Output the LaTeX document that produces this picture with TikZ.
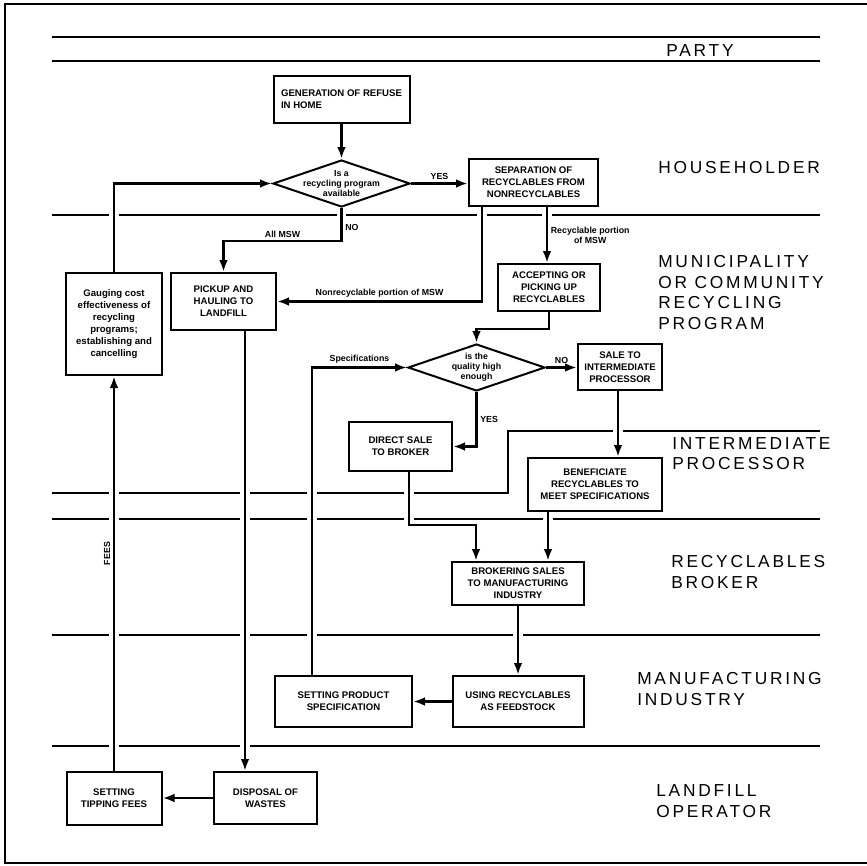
\documentclass[tikz,border=0pt]{standalone}
\usepackage{fontspec}
\setmainfont{Liberation Sans}
\newfontfamily\lanefont[LetterSpace=16]{Liberation Sans}
\usetikzlibrary{shapes.geometric,arrows.meta,positioning}
\pgfdeclarelayer{fore}
\pgfsetlayers{main,fore}

\newcommand\boxfont{\bfseries\fontsize{7.2}{9}\selectfont}
\newcommand\notefont{\bfseries\fontsize{6.6}{7.6}\selectfont}
\newcommand\lanesize{\lanefont\fontsize{13}{15.4}\selectfont}

\tikzset{
  proc/.style={draw,line width=1.5pt,align=center,font=\boxfont,inner sep=2pt,fill=white},
  query/.style={diamond,draw,line width=1.5pt,inner sep=0pt,minimum width=102.75pt,minimum height=35.25pt,fill=white},
  querytext/.style={align=center,font=\notefont,inner sep=0pt},
  flow/.style={line width=1.8pt,-{Latex[length=9pt,width=6.5pt]},
    preaction={draw=white,line width=7pt}},
  note/.style={font=\notefont,inner sep=2pt},
  laneline/.style={line width=0.9pt},
  lane/.style={font=\lanesize,align=left,inner sep=0pt,anchor=west}
}

\begin{document}
\begin{tikzpicture}[x=0.75pt,y=-0.75pt]
  \useasboundingbox (0,0) rectangle (867,865);
  % frame and lanes
  \draw[line width=1pt] (867,4) -- (5,4) -- (5,863) -- (867,863);
  \foreach \y in {37,61,215,519,635,746}
    \draw[laneline] (52,\y) -- (820,\y);
  \draw[laneline] (52,493) -- (508,493) -- (508,431) -- (820,431);

  \node[lane,anchor=center] (party) at (700,51) {PARTY};
  \node[lane] (household) at (658,168) {HOUSEHOLDER};
  \node[lane] (municip) at (658,292.5) {MUNICIPALITY\\OR COMMUNITY\\RECYCLING\\PROGRAM};
  \node[lane] (interproc) at (672,453.5) {INTERMEDIATE\\PROCESSOR};
  \node[lane] (broklane) at (671,572) {RECYCLABLES\\BROKER};
  \node[lane] (manuf) at (637,689) {MANUFACTURING\\INDUSTRY};
  \node[lane] (landfill) at (656,801) {LANDFILL\\OPERATOR};

  % boxes
  \begin{pgfonlayer}{fore}
  \node[proc,align=left,minimum width=102pt,minimum height=35.25pt] (gen) at (341.5,99.5) {GENERATION OF REFUSE\\IN HOME};
  \node[query] (q1) at (341.5,183.5) {};
  \node[querytext] (q1t) at (q1) {Is a\\recycling program\\available};
  \node[proc,minimum width=96.75pt,minimum height=35.25pt] (sep) at (533.5,182.5) {SEPARATION OF\\RECYCLABLES FROM\\NONRECYCLABLES};
  \node[proc,minimum width=78.75pt,minimum height=42.75pt] (pickup) at (223.5,301.5) {PICKUP AND\\HAULING TO\\LANDFILL};
  \node[proc,minimum width=72pt,minimum height=76.5pt] (gauge) at (114,324) {Gauging cost\\effectiveness of\\recycling\\programs;\\establishing and\\cancelling};
  \node[proc,minimum width=76.5pt,minimum height=35.25pt] (accept) at (549,287.5) {ACCEPTING OR\\PICKING UP\\RECYCLABLES};
  \node[query] (q2) at (476.5,367.5) {};
  \node[querytext] (q2t) at (q2) {is the\\quality high\\enough};
  \node[proc,minimum width=63pt,minimum height=34.5pt] (saleip) at (620,367) {SALE TO\\INTERMEDIATE\\PROCESSOR};
  \node[proc,minimum width=77.25pt,minimum height=36.75pt] (direct) at (400.5,446.5) {DIRECT SALE\\TO BROKER};
  \node[proc,minimum width=100.5pt,minimum height=39.75pt] (benef) at (595,484.5) {BENEFICIATE\\RECYCLABLES TO\\MEET SPECIFICATIONS};
  \node[proc,minimum width=99pt,minimum height=32.25pt] (broker) at (518,583.5) {BROKERING SALES\\TO MANUFACTURING\\INDUSTRY};
  \node[proc,minimum width=98.25pt,minimum height=38.25pt] (using) at (518,701.5) {USING RECYCLABLES\\AS FEEDSTOCK};
  \node[proc,minimum width=102.75pt,minimum height=38.25pt] (setspec) at (343.5,701.5) {SETTING PRODUCT\\SPECIFICATION};
  \node[proc,minimum width=77.25pt,minimum height=39pt] (disposal) at (265.5,798) {DISPOSAL OF\\WASTES};
  \node[proc,minimum width=71.25pt,minimum height=39.75pt] (tipping) at (114,798) {SETTING\\TIPPING FEES};
  \end{pgfonlayer}

  % flows
  \draw[flow] (gen) -- (q1);
  \draw[flow] (q1.east) -- (q1.east -| sep.west) node[note,midway,above] (yes1) {YES};
  \draw[flow] (q1.south) -- ++(0,33) node[note,pos=0.6,right] (no1) {NO}
    -| (pickup.north) node[note,pos=0.25,above] (allmsw) {All MSW};
  \draw[flow] (gauge.north) |- (q1.west);
  \draw[flow] (sep.south -| 482,0) |- (pickup.east) node[note,pos=0.75,above] (nonrec) {Nonrecyclable portion of MSW};
  \draw[flow] (sep.south -| 547,0) -- (accept.north -| 547,0)
    node[note,midway,right,align=center] (recport) {Recyclable portion\\of MSW};
  \draw[flow] (accept.south) -- ++(0,17) -| (q2.north);
  \draw[flow] (q2.east) -- (q2.east -| saleip.west) node[note,midway,above] (no2) {NO};
  \draw[flow] (q2.south) |- (direct.east) node[note,pos=0.25,right] (yes2) {YES};
  \draw[flow] (saleip.south -| 618,0) -- (benef.north -| 618,0);
  \draw[flow] (direct.south -| 409,0) |- (476,525) -- (broker.north -| 476,0);
  \draw[flow] (benef.south -| 548,0) -- (broker.north -| 548,0);
  \draw[flow] (broker) -- (using);
  \draw[flow] (using) -- (setspec);
  \draw[flow] (setspec.north -| 312,0) |- (q2.west) node[note,pos=0.75,above] (specs) {Specifications};
  \draw[flow] (pickup.south -| 245,0) -- (disposal.north -| 245,0);
  \draw[flow] (disposal) -- (tipping);
  \draw[flow] (tipping) -- (gauge) node[note,pos=0.55,rotate=90,anchor=south] (fees) {FEES};
\end{tikzpicture}
\end{document}
